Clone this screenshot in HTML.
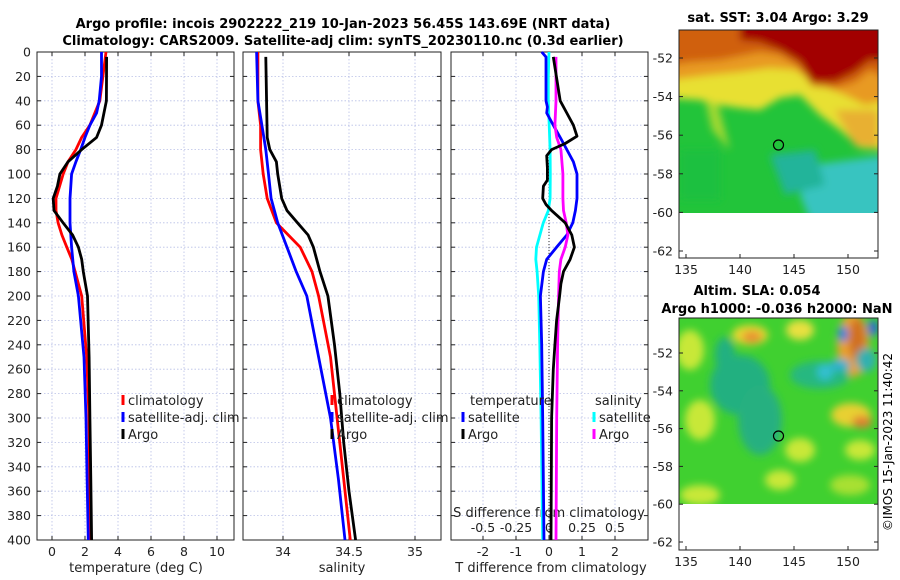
<!DOCTYPE html>
<html><head><meta charset="utf-8"><style>
html,body{margin:0;padding:0;background:#fff;}
svg{display:block;font-family:"DejaVu Sans","Liberation Sans",sans-serif;}
</style></head><body>
<svg id="fig" width="900" height="580" viewBox="0 0 900 580" xmlns="http://www.w3.org/2000/svg">
<defs>
<filter id="blur1" x="-20%" y="-20%" width="140%" height="140%"><feGaussianBlur stdDeviation="4"/></filter>
<filter id="blur2" x="-20%" y="-20%" width="140%" height="140%"><feGaussianBlur stdDeviation="4"/></filter>
<clipPath id="cm1"><rect x="679" y="30" width="199" height="183"/></clipPath>
<clipPath id="cm2"><rect x="679" y="318" width="199" height="186"/></clipPath>
</defs>
<text x="343" y="28" text-anchor="middle" font-size="13" font-weight="bold">Argo profile: incois 2902222_219 10-Jan-2023 56.45S 143.69E (NRT data)</text>
<text x="343" y="45" text-anchor="middle" font-size="13" font-weight="bold">Climatology: CARS2009. Satellite-adj clim: synTS_20230110.nc (0.3d earlier)</text>

<!-- Map 1 -->
<g>
<text x="778" y="22" text-anchor="middle" font-size="13" font-weight="bold">sat. SST: 3.04 Argo: 3.29</text>
<g clip-path="url(#cm1)">
<rect x="679" y="30" width="199" height="183" fill="#22c43a"/>
<g filter="url(#blur1)">
<path d="M670 20 H890 V150 L860 148 L840 130 L820 115 L800 95 L780 98 L760 110 L740 108 L720 105 L700 100 L670 98 Z" fill="#e8e030"/>
<path d="M835 110 L878 110 L878 148 L855 146 Z" fill="#e8b030"/>
<path d="M705 100 L718 104 L730 150 L712 130 Z" fill="#a0d830"/>
<path d="M670 20 H890 V100 L865 105 L845 95 L820 85 L795 70 L770 68 L740 72 L710 75 L670 80 Z" fill="#e89a20"/>
<path d="M670 20 H890 V80 L870 70 L855 82 L835 88 L812 86 L798 66 L780 55 L760 52 L740 56 L720 60 L690 62 L670 65 Z" fill="#d06010"/>
<path d="M740 20 H890 V62 L870 60 L855 72 L835 82 L812 82 L800 62 L780 50 L760 42 L740 40 Z" fill="#a20000"/>
<path d="M810 165 L890 155 V220 L810 220 L800 195 Z" fill="#38c4c0"/>
<path d="M770 155 L815 150 L825 185 L785 195 Z" fill="#22b49a"/>
<path d="M680 150 L720 150 L720 200 L680 200 Z" fill="#1ec040"/>
</g>
</g>
<rect x="679" y="30" width="199" height="228" fill="none" stroke="#222" stroke-width="1"/>
<circle cx="778.5" cy="145" r="5" fill="none" stroke="#000" stroke-width="1.2"/>
</g>

<!-- Map 2 -->
<g>
<text x="757" y="295" text-anchor="middle" font-size="13" font-weight="bold">Altim. SLA: 0.054</text>
<text x="777" y="313" text-anchor="middle" font-size="13" font-weight="bold">Argo h1000: -0.036 h2000: NaN</text>
<g clip-path="url(#cm2)">
<rect x="679" y="318" width="199" height="186" fill="#40d030"/>
<g filter="url(#blur2)">
<ellipse cx="690" cy="350" rx="14" ry="20" fill="#c8e838"/>
<ellipse cx="750" cy="335" rx="18" ry="10" fill="#e8d830"/>
<ellipse cx="752" cy="337" rx="10" ry="6" fill="#e89030"/>
<ellipse cx="800" cy="330" rx="14" ry="10" fill="#e8e040"/>
<ellipse cx="853" cy="345" rx="16" ry="32" fill="#e8a030"/>
<ellipse cx="857" cy="340" rx="8" ry="22" fill="#d07020"/>
<ellipse cx="740" cy="385" rx="30" ry="30" fill="#20b080"/>
<ellipse cx="725" cy="355" rx="10" ry="18" fill="#20b080"/>
<ellipse cx="760" cy="420" rx="22" ry="35" fill="#28b080"/>
<ellipse cx="820" cy="375" rx="30" ry="14" fill="#28b880"/>
<ellipse cx="825" cy="372" rx="8" ry="8" fill="#30c0d0"/>
<ellipse cx="866" cy="360" rx="10" ry="12" fill="#30b0b0"/>
<ellipse cx="840" cy="365" rx="10" ry="6" fill="#30b0d0"/>
<ellipse cx="851" cy="415" rx="20" ry="12" fill="#e8d030"/>
<ellipse cx="862" cy="422" rx="10" ry="6" fill="#e08030"/>
<ellipse cx="700" cy="420" rx="15" ry="20" fill="#c8e838"/>
<ellipse cx="800" cy="450" rx="15" ry="12" fill="#c8e838"/>
<ellipse cx="860" cy="450" rx="15" ry="10" fill="#c8e838"/>
<ellipse cx="700" cy="495" rx="20" ry="10" fill="#c8e838"/>
<ellipse cx="780" cy="480" rx="15" ry="10" fill="#c8e838"/>
<ellipse cx="850" cy="485" rx="20" ry="10" fill="#a8e030"/>
<ellipse cx="843" cy="334" rx="5" ry="8" fill="#2080e0"/>
<ellipse cx="873" cy="328" rx="5" ry="8" fill="#2060e0"/>
</g>
</g>
<rect x="679" y="318" width="199" height="232" fill="none" stroke="#222" stroke-width="1"/>
<circle cx="778.5" cy="436" r="5" fill="none" stroke="#000" stroke-width="1.2"/>
<text transform="translate(892,442) rotate(-90)" text-anchor="middle" font-size="12">©IMOS 15-Jan-2023 11:40:42</text>
</g>
<g id="dyn"></g>
</svg>
<script>
// ---- data ----
const depthAxisTicks = [0,20,40,60,80,100,120,140,160,180,200,220,240,260,280,300,320,340,360,380,400];
const tempTicks = [0,2,4,6,8,10];
const salTicks = [34,34.5,35];
const salTickLabels = ["34","34.5","35"];
const tdiffTicks = [-2,-1,0,1,2];
const sdiffTicks = [-0.5,-0.25,0,0.25,0.5];
const sdiffTickLabels = ["-0.5","-0.25","0","0.25","0.5"];
const lonTicks = [135,140,145,150];
const latTicks = [-52,-54,-56,-58,-60,-62];

const argoTDepth = [4,40,60,70,80,90,100,110,120,130,140,150,160,170,180,200,250,300,350,400];
const argoTemp   = [3.31,3.3,3.0,2.7,1.8,0.97,0.48,0.33,0.07,0.12,0.67,1.25,1.6,1.8,1.9,2.15,2.25,2.3,2.35,2.4];
const climDepth  = [0,40,60,70,80,90,100,120,130,140,150,160,170,180,200,250,300,350,400];
const climTemp   = [3.27,2.9,2.3,1.8,1.45,0.97,0.68,0.24,0.24,0.37,0.6,0.9,1.2,1.4,1.8,2.1,2.24,2.27,2.3];
const satDepth   = [0,20,40,50,60,70,80,90,100,120,140,160,180,200,250,300,350,400];
const satTemp    = [3.0,3.0,2.86,2.7,2.3,2.0,1.74,1.45,1.19,1.09,1.09,1.19,1.33,1.6,1.94,2.06,2.13,2.2];

const argoSDepth = [4,70,80,90,100,120,130,140,150,160,180,200,240,280,320,360,400];
const argoSal    = [33.87,33.88,33.9,33.95,33.96,33.99,34.03,34.11,34.19,34.23,34.28,34.34,34.39,34.43,34.46,34.5,34.55];
const climSDepth = [0,40,60,80,100,120,140,150,160,180,200,250,300,350,400];
const climSal    = [33.81,33.81,33.83,33.83,33.85,33.88,33.95,34.04,34.13,34.22,34.27,34.36,34.41,34.46,34.51];
const satSDepth  = [0,40,60,80,100,120,140,160,180,200,250,300,350,400];
const satSal     = [33.8,33.81,33.84,33.87,33.89,33.91,33.96,34.03,34.1,34.18,34.27,34.36,34.42,34.47];

const dTArgoDepth = [4,40,50,60,69,75,80,85,95,105,110,120,125,130,140,150,160,170,180,190,200,220,240,260,300,400];
const dTArgo      = [0.13,0.34,0.54,0.74,0.85,0.49,0.08,-0.07,-0.05,-0.05,-0.17,-0.19,-0.09,0.08,0.49,0.69,0.77,0.64,0.44,0.36,0.32,0.23,0.18,0.13,0.08,0.06];
const dTSatDepth  = [0,4,40,45,50,60,70,80,90,100,110,120,130,140,150,160,170,180,200,240,300,400];
const dTSat       = [-0.22,-0.09,-0.09,-0.05,-0.07,0.13,0.34,0.54,0.74,0.85,0.85,0.85,0.8,0.72,0.54,0.23,-0.07,-0.17,-0.26,-0.22,-0.19,-0.15];
const dSSatDepth  = [0,20,40,80,100,120,130,140,160,170,180,200,240,300,400];
const dSSat       = [0,-0.005,-0.005,0.008,0.01,0.008,-0.005,-0.043,-0.095,-0.1,-0.09,-0.078,-0.07,-0.06,-0.048];
const dSArgoDepth = [4,40,60,70,80,100,120,130,140,150,160,170,180,200,240,300,400];
const dSArgo      = [0.053,0.053,0.045,0.058,0.09,0.105,0.105,0.11,0.13,0.143,0.123,0.09,0.078,0.073,0.065,0.058,0.053];

// ---- axes ----
const yD = d => 52 + d*1.22;
const xT = t => 52 + 16.5*t;
const xS = s => 283 + 132*(s-34);
const xTd = t => 549 + 33*t;
const xSd = s => 549 + 132*s;
const xLon = l => 686 + (l-135)*10.8;
const yLat1 = l => 58 + (-52-l)*19.3;
const yLat2 = l => 353 + (-52-l)*18.9;

const NS="http://www.w3.org/2000/svg";
const root=document.getElementById('dyn');
function el(tag,attrs,parent){const e=document.createElementNS(NS,tag);for(const k in attrs)e.setAttribute(k,attrs[k]);(parent||root).appendChild(e);return e;}
function txt(s,attrs,parent){const e=el('text',attrs,parent);e.textContent=s;return e;}

const panels=[{x0:37,x1:234,name:'temperature-panel'},{x0:243,x1:441,name:'salinity-panel'},{x0:451,x1:648,name:'difference-panel'}];
const vgrid=[tempTicks.map(xT),salTicks.map(xS),tdiffTicks.map(xTd)];
panels.forEach((p,i)=>{
  const g=el('g',{});
  
  
  depthAxisTicks.forEach(d=>{
    const l=el('line',{x1:p.x0,x2:p.x1,y1:yD(d),y2:yD(d),stroke:'#b8bfe6','stroke-width':0.8,'stroke-dasharray':'1.5,2'},g);
    
    
    el('line',{x1:p.x0,x2:p.x0+4,y1:yD(d),y2:yD(d),stroke:'#222'},g);
    el('line',{x1:p.x1-4,x2:p.x1,y1:yD(d),y2:yD(d),stroke:'#222'},g);
  });
  vgrid[i].forEach(x=>{
    const l=el('line',{x1:x,x2:x,y1:52,y2:540,stroke:'#b8bfe6','stroke-width':0.8,'stroke-dasharray':'1.5,2'},g);
    
    
    el('line',{x1:x,x2:x,y1:536,y2:540,stroke:'#222'},g);
    el('line',{x1:x,x2:x,y1:52,y2:56,stroke:'#222'},g);
  });
  const r=el('rect',{x:p.x0,y:52,width:p.x1-p.x0,height:488,fill:'none',stroke:'#222','stroke-width':1},g);
  
  
});
depthAxisTicks.forEach(d=>{
  const t=txt(String(d),{x:31,y:yD(d)+4.5,'text-anchor':'end','font-size':12.5,fill:'#222'});
  
  
});
tempTicks.forEach(v=>{const t=txt(String(v),{x:xT(v),y:556,'text-anchor':'middle','font-size':12.5,fill:'#222'});
  
  });
salTicks.forEach((v,i)=>{const t=txt(salTickLabels[i],{x:xS(v),y:556,'text-anchor':'middle','font-size':12.5,fill:'#222'});
  
  });
tdiffTicks.forEach(v=>{const t=txt(String(v),{x:xTd(v),y:556,'text-anchor':'middle','font-size':12.5,fill:'#222'});
  
  });
sdiffTicks.forEach((v,i)=>{const t=txt(sdiffTickLabels[i],{x:xSd(v),y:532,'text-anchor':'middle','font-size':12.5,fill:'#222'});
  
  });
[['temperature (deg C)',136,'temperature-axis-title'],['salinity',342,'salinity-axis-title'],['T difference from climatology',551,'tdiff-axis-title']].forEach(a=>{
  const t=txt(a[0],{x:a[1],y:572,'text-anchor':'middle','font-size':13,fill:'#222'});
  
  
});
const st=txt('S difference from climatology',{x:549,y:517,'text-anchor':'middle','font-size':13,fill:'#222'});


const zl=el('line',{x1:xTd(0),x2:xTd(0),y1:52,y2:540,stroke:'#333','stroke-width':1,'stroke-dasharray':'1,2'});



function series(depths,vals,xf,color,name){
  const pts=depths.map((d,i)=>xf(vals[i]).toFixed(1)+','+yD(d).toFixed(1)).join(' ');
  const p=el('polyline',{points:pts,fill:'none',stroke:color,'stroke-width':2.8,'stroke-linejoin':'round'});
  
  
}
series(climDepth,climTemp,xT,'#ff0000','clim-temperature-line');
series(satDepth,satTemp,xT,'#0000ff','sat-temperature-line');
series(argoTDepth,argoTemp,xT,'#000000','argo-temperature-line');
series(climSDepth,climSal,xS,'#ff0000','clim-salinity-line');
series(satSDepth,satSal,xS,'#0000ff','sat-salinity-line');
series(argoSDepth,argoSal,xS,'#000000','argo-salinity-line');
series(dSSatDepth,dSSat,xSd,'#00ffff','sat-sdiff-line');
series(dTSatDepth,dTSat,xTd,'#0000ff','sat-tdiff-line');
series(dSArgoDepth,dSArgo,xSd,'#ff00ff','argo-sdiff-line');
series(dTArgoDepth,dTArgo,xTd,'#000000','argo-tdiff-line');

function legItem(x,y,color,label,name){
  const g=el('g',{});
  
  
  if(color) el('line',{x1:x,x2:x,y1:y-10,y2:y,stroke:color,'stroke-width':3},g);
  txt(label,{x:x+5,y:y,'font-size':13,fill:'#222'},g);
}
legItem(123,405,'#ff0000','climatology','legend-climatology');
legItem(123,422,'#0000ff','satellite-adj. clim','legend-satellite-adj');
legItem(123,439,'#000000','Argo','legend-argo');
legItem(332,405,'#ff0000','climatology','legend-climatology-sal');
legItem(332,422,'#0000ff','satellite-adj. clim','legend-satellite-adj-sal');
legItem(332,439,'#000000','Argo','legend-argo-sal');
legItem(465,405,null,'temperature','legend-temperature-header');
legItem(463,422,'#0000ff','satellite','legend-tdiff-satellite');
legItem(463,439,'#000000','Argo','legend-tdiff-argo');
legItem(590,405,null,'salinity','legend-salinity-header');
legItem(594,422,'#00ffff','satellite','legend-sdiff-satellite');
legItem(594,439,'#ff00ff','Argo','legend-sdiff-argo');

[[yLat1,30,258],[yLat2,318,550]].forEach((m,mi)=>{
  latTicks.forEach(l=>{
    const y=m[0](l);
    el('line',{x1:679,x2:683,y1:y,y2:y,stroke:'#222'});
    el('line',{x1:874,x2:878,y1:y,y2:y,stroke:'#222'});
    const t=txt(String(l),{x:673,y:y+4.5,'text-anchor':'end','font-size':12.5,fill:'#222'});
    
    
  });
  lonTicks.forEach(l=>{
    const x=xLon(l);
    el('line',{x1:x,x2:x,y1:m[2]-4,y2:m[2],stroke:'#222'});
    const t=txt(String(l),{x:x,y:m[2]+16,'text-anchor':'middle','font-size':12.5,fill:'#222'});
    
    
  });
});
</script>
</body></html>
